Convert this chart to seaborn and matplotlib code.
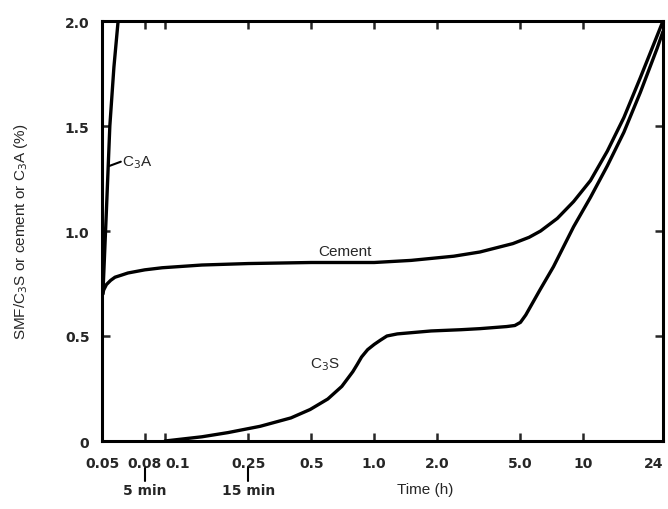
import matplotlib
matplotlib.use("Agg")
import matplotlib.pyplot as plt
import seaborn as sns
import pandas as pd
from matplotlib.ticker import FixedLocator, NullLocator, FixedFormatter

# ---- data ----
c3a_t = [0.0505, 0.0525, 0.0545, 0.0570, 0.0597]
c3a_y = [0.70, 1.10, 1.50, 1.78, 2.00]

cement_t = [0.05, 0.051, 0.0525, 0.055, 0.0577, 0.062, 0.0665, 0.08, 0.097, 0.15, 0.25, 0.5, 1.0, 1.5, 2.4, 3.2, 4.6, 5.5, 6.24, 7.5, 8.97, 10.8, 13.0, 15.6, 18.7, 22.5, 24.0]
cement_y = [0.69, 0.72, 0.745, 0.765, 0.78, 0.79, 0.80, 0.815, 0.825, 0.838, 0.845, 0.85, 0.85, 0.86, 0.88, 0.90, 0.94, 0.97, 1.00, 1.06, 1.14, 1.24, 1.38, 1.54, 1.73, 1.93, 2.00]

c3s_t = [0.1, 0.15, 0.2, 0.285, 0.4, 0.494, 0.6, 0.70, 0.79, 0.83, 0.87, 0.93, 1.0, 1.07, 1.15, 1.29, 1.87, 2.6, 3.2, 4.3, 4.7, 5.0, 5.3, 6.2, 7.19, 8.97, 10.8, 13.0, 15.6, 18.7, 22.5, 24.0]
c3s_y = [0.0, 0.02, 0.04, 0.07, 0.11, 0.15, 0.20, 0.26, 0.33, 0.365, 0.40, 0.435, 0.46, 0.48, 0.50, 0.51, 0.524, 0.53, 0.535, 0.545, 0.55, 0.565, 0.60, 0.72, 0.83, 1.02, 1.16, 1.31, 1.47, 1.66, 1.87, 1.95]

xticks = [0.05, 0.08, 0.1, 0.25, 0.5, 1.0, 2.0, 5.0, 10, 24]
xticklabels = ["0.05", "0.08", "0.1", "0.25", "0.5", "1.0", "2.0", "5.0", "10", "24"]
yticks = [0, 0.5, 1.0, 1.5, 2.0]
yticklabels = ["0", "0.5", "1.0", "1.5", "2.0"]

df = pd.concat([
    pd.DataFrame({"t": c3a_t, "v": c3a_y, "s": "C3A"}),
    pd.DataFrame({"t": cement_t, "v": cement_y, "s": "Cement"}),
    pd.DataFrame({"t": c3s_t, "v": c3s_y, "s": "C3S"}),
])

sns.set_style("ticks")
plt.rcParams['font.family'] = ['Liberation Sans', 'DejaVu Sans']

fig = plt.figure(figsize=(6.68, 5.10), dpi=100)
ax = fig.add_axes([102/668, 1-442/510, (663-102)/668, (442-22)/510])

sns.lineplot(data=df, x="t", y="v", hue="s", units="s", estimator=None, sort=False,
             palette={"C3A": "black", "Cement": "black", "C3S": "black"},
             linewidth=2.4, legend=False, ax=ax)

ax.set_xscale("log")
ax.set_xlim(0.05, 24)
ax.set_ylim(0, 2.0)
ax.xaxis.set_major_locator(FixedLocator(xticks))
ax.xaxis.set_major_formatter(FixedFormatter(xticklabels))
ax.xaxis.set_minor_locator(NullLocator())
ax.set_yticks(yticks)
ax.set_yticklabels(yticklabels)

for sp in ax.spines.values():
    sp.set_linewidth(2.2)
    sp.set_color("black")
    sp.set_visible(True)

ax.tick_params(axis="both", which="major", direction="in", length=6, width=1.8,
               top=True, right=True, labelsize=10)
ax.tick_params(axis="x", pad=11)
ax.tick_params(axis="y", pad=9)
for lab in ax.get_xticklabels() + ax.get_yticklabels():
    lab.set_fontweight("bold")
    lab.set_family("DejaVu Sans")
xl = ax.get_xticklabels()
xl[-1].set_horizontalalignment("right")
xl[2].set_horizontalalignment("left")

ax.set_xlabel("")
ax.set_ylabel("SMF/C$_3$S or cement or C$_3$A (%)", fontsize=11, labelpad=25)

# curve labels
ax.text(0.727, 0.905, "Cement", fontsize=11, ha="center", va="center")
ax.text(0.583, 0.367, "C$_3$S", fontsize=11, ha="center", va="center")
ax.text(0.0625, 1.33, "C$_3$A", fontsize=11, ha="left", va="center")
ax.plot([0.0543, 0.0615], [1.31, 1.33], color="black", linewidth=1.5)

# minute annotations below the axis
for xv, txt in [(0.08, "5 min"), (0.25, "15 min")]:
    ax.plot([xv, xv], [-0.13, -0.19], color="black", linewidth=1.5, clip_on=False)
    ax.text(xv, -0.235, txt, fontsize=10, fontweight="bold", ha="center", va="center",
            family="DejaVu Sans", clip_on=False)

fig.text(425/668, 1-490/510, "Time (h)", fontsize=11, ha="center", va="center")

fig.savefig("out.png", dpi=100)
